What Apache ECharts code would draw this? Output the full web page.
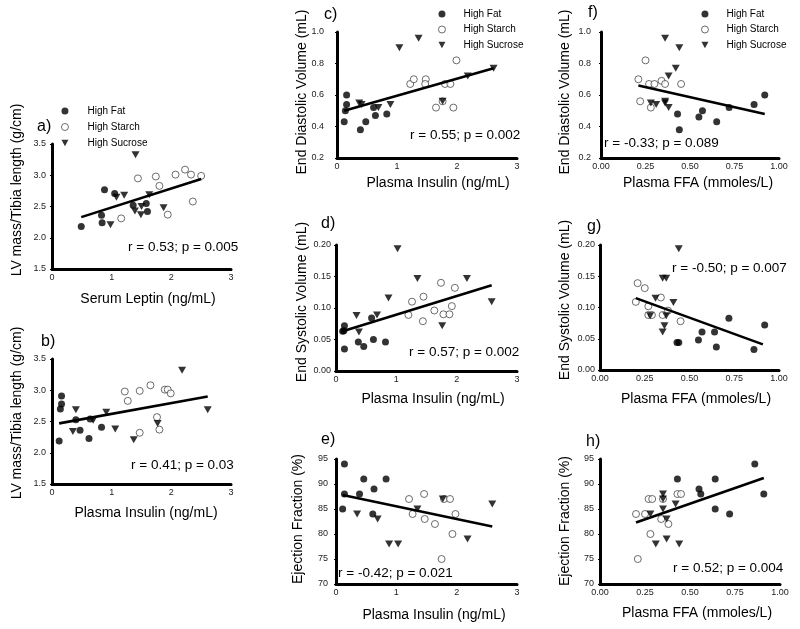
<!DOCTYPE html>
<html>
<head>
<meta charset="utf-8">
<script src="https://cdn.jsdelivr.net/npm/echarts@6/dist/echarts.min.js"></script>
<style>
html,body{margin:0;padding:0;background:#fff;}
#chart{width:800px;height:629px;}
</style>
</head>
<body>
<div id="chart"></div>
<script>
// ---- tick labels ----
const insulinTicks = [0, 1, 2, 3];
const ffaTicks = [0, 0.25, 0.5, 0.75, 1];
const lvTicks = [1.5, 2, 2.5, 3, 3.5];
const edvTicks = [0.2, 0.4, 0.6, 0.8, 1.0];
const esvTicks = [0, 0.05, 0.1, 0.15, 0.2];
const efTicks = [70, 75, 80, 85, 90, 95];

const groupNames = ['High Fat', 'High Starch', 'High Sucrose'];

// ---- a) LV mass vs serum leptin ----
const aFat = [[0.49,2.18],[0.83,2.36],[0.84,2.24],[0.88,2.77],[1.05,2.71],[1.36,2.52],[1.58,2.55],[1.60,2.42]];
const aStarch = [[1.44,2.95],[1.74,2.98],[1.80,2.83],[2.07,3.01],[2.23,3.09],[2.33,3.01],[2.50,2.99],[2.36,2.58],[1.94,2.37],[1.16,2.31]];
const aSucrose = [[1.40,3.33],[1.08,2.65],[1.21,2.68],[0.98,2.21],[1.39,2.43],[1.49,2.37],[1.50,2.50],[1.63,2.69],[1.87,2.48]];
const aFit = [[0.49,2.33],[2.50,2.94]];

// ---- b) LV mass vs plasma insulin ----
const bFat = [[0.12,2.19],[0.16,2.91],[0.16,2.78],[0.14,2.70],[0.40,2.53],[0.47,2.36],[0.62,2.23],[0.83,2.41],[0.64,2.54]];
const bStarch = [[1.22,2.98],[1.27,2.83],[1.47,2.99],[1.47,2.32],[1.65,3.08],[1.76,2.57],[1.80,2.37],[1.89,3.01],[1.94,3.01],[1.99,2.95]];
const bSucrose = [[0.40,2.69],[0.35,2.34],[0.69,2.52],[0.91,2.65],[1.06,2.38],[1.37,2.21],[1.77,2.47],[2.18,3.32],[2.61,2.69]];
const bFit = [[0.12,2.47],[2.61,2.90]];

// ---- c) EDV vs plasma insulin ----
const cFat = [[0.12,0.43],[0.16,0.60],[0.16,0.54],[0.14,0.50],[0.39,0.38],[0.48,0.43],[0.61,0.52],[0.64,0.47],[0.83,0.48]];
const cStarch = [[1.22,0.67],[1.28,0.70],[1.48,0.70],[1.47,0.67],[1.65,0.52],[1.80,0.67],[1.89,0.67],[1.94,0.52],[1.99,0.82],[1.76,0.56]];
const cSucrose = [[0.37,0.55],[0.41,0.54],[0.69,0.52],[0.89,0.54],[1.04,0.90],[1.36,0.96],[1.76,0.56],[2.18,0.72],[2.61,0.77]];
const cFit = [[0.12,0.50],[2.61,0.77]];

// ---- d) ESV vs plasma insulin ----
const dFat = [[0.11,0.063],[0.13,0.064],[0.14,0.072],[0.14,0.035],[0.37,0.046],[0.46,0.039],[0.59,0.084],[0.62,0.050],[0.82,0.046]];
const dStarch = [[1.20,0.089],[1.26,0.110],[1.45,0.118],[1.44,0.079],[1.63,0.096],[1.74,0.140],[1.78,0.090],[1.88,0.090],[1.92,0.103],[1.97,0.132]];
const dSucrose = [[0.34,0.088],[0.38,0.062],[0.68,0.089],[0.87,0.116],[1.02,0.194],[1.35,0.147],[1.76,0.072],[2.17,0.147],[2.58,0.110]];
const dFit = [[0.11,0.063],[2.58,0.136]];

// ---- e) EF vs plasma insulin ----
const eFat = [[0.14,94],[0.14,88],[0.11,85],[0.39,88],[0.46,91],[0.63,89],[0.61,84],[0.83,91]];
const eStarch = [[1.21,87],[1.27,84],[1.46,88],[1.47,83],[1.64,82],[1.79,87],[1.89,87],[1.98,84],[1.93,80],[1.75,75]];
const eSucrose = [[0.35,84],[0.69,83],[0.88,78],[1.03,78],[1.35,85],[1.77,87],[2.18,79],[2.59,86]];
const eFit = [[0.11,87.8],[2.59,81.5]];

// ---- f) EDV vs plasma FFA ----
const fFat = [[0.43,0.48],[0.44,0.38],[0.55,0.46],[0.57,0.50],[0.65,0.43],[0.72,0.52],[0.86,0.54],[0.92,0.60]];
const fStarch = [[0.21,0.70],[0.22,0.56],[0.25,0.82],[0.27,0.67],[0.30,0.67],[0.28,0.52],[0.34,0.69],[0.36,0.67],[0.45,0.67]];
const fSucrose = [[0.28,0.55],[0.31,0.54],[0.36,0.55],[0.36,0.56],[0.38,0.52],[0.36,0.96],[0.44,0.90],[0.42,0.77],[0.38,0.72]];
const fFit = [[0.21,0.66],[0.92,0.48]];

// ---- g) ESV vs plasma FFA ----
const gFat = [[0.43,0.044],[0.44,0.044],[0.55,0.048],[0.57,0.061],[0.64,0.061],[0.65,0.037],[0.72,0.083],[0.86,0.033],[0.92,0.072]];
const gStarch = [[0.20,0.109],[0.21,0.139],[0.25,0.131],[0.27,0.102],[0.27,0.088],[0.29,0.088],[0.34,0.116],[0.35,0.088],[0.38,0.095],[0.45,0.078]];
const gSucrose = [[0.28,0.087],[0.31,0.115],[0.35,0.147],[0.37,0.147],[0.36,0.071],[0.35,0.061],[0.37,0.087],[0.41,0.108],[0.44,0.194]];
const gFit = [[0.20,0.115],[0.91,0.041]];

// ---- h) EF vs plasma FFA ----
const hFat = [[0.43,91],[0.55,89],[0.56,88],[0.64,91],[0.64,85],[0.72,84],[0.86,94],[0.91,88]];
const hStarch = [[0.20,84],[0.25,84],[0.27,87],[0.29,87],[0.21,75],[0.28,80],[0.34,83],[0.35,87],[0.38,82],[0.43,88],[0.45,88]];
const hSucrose = [[0.28,84],[0.31,78],[0.35,88],[0.35,87],[0.35,85],[0.37,83],[0.37,79],[0.42,86],[0.44,78]];
const hFit = [[0.20,82.3],[0.91,91.2]];

// ---- panel layout ----
const FONT = '"Liberation Sans", Arial, Helvetica, sans-serif';
const panels = [
  {lab:'a)', fat:aFat, starch:aStarch, sucrose:aSucrose, fit:aFit, xt:insulinTicks, yt:lvTicks, xd:0, yd:1,
   grid:{left:52, top:144, width:179, height:125}, ym:6,
   xTitle:'Serum Leptin (ng/mL)', xTitlePos:[148,299], yTitle:'LV mass/Tibia length (g/cm)', yTitlePos:[17,190],
   labPos:[37,127], stat:'r = 0.53; p = 0.005', statPos:[128,247]},
  {lab:'b)', fat:bFat, starch:bStarch, sucrose:bSucrose, fit:bFit, xt:insulinTicks, yt:lvTicks, xd:0, yd:1,
   grid:{left:52, top:359, width:179, height:125}, ym:6,
   xTitle:'Plasma Insulin (ng/mL)', xTitlePos:[146,513], yTitle:'LV mass/Tibia length (g/cm)', yTitlePos:[17,413],
   labPos:[41,342], stat:'r = 0.41; p = 0.03', statPos:[131,465]},
  {lab:'c)', fat:cFat, starch:cStarch, sucrose:cSucrose, fit:cFit, xt:insulinTicks, yt:edvTicks, xd:0, yd:1,
   grid:{left:337, top:32, width:180, height:126}, ym:13,
   xTitle:'Plasma Insulin (ng/mL)', xTitlePos:[438,183], yTitle:'End Diastolic Volume (mL)', yTitlePos:[302,92],
   labPos:[324,15], stat:'r = 0.55; p = 0.002', statPos:[410,135]},
  {lab:'d)', fat:dFat, starch:dStarch, sucrose:dSucrose, fit:dFit, xt:insulinTicks, yt:esvTicks, xd:0, yd:2,
   grid:{left:336, top:245, width:181, height:126}, ym:5,
   xTitle:'Plasma Insulin (ng/mL)', xTitlePos:[433,399], yTitle:'End Systolic Volume (mL)', yTitlePos:[302,302],
   labPos:[321,224], stat:'r = 0.57; p = 0.002', statPos:[409,352]},
  {lab:'e)', fat:eFat, starch:eStarch, sucrose:eSucrose, fit:eFit, xt:insulinTicks, yt:efTicks, xd:0, yd:0,
   grid:{left:336, top:459, width:181, height:125}, ym:8,
   xTitle:'Plasma Insulin (ng/mL)', xTitlePos:[434,615], yTitle:'Ejection Fraction (%)', yTitlePos:[298,519],
   labPos:[321,440], stat:'r = -0.42; p = 0.021', statPos:[338,573]},
  {lab:'f)', fat:fFat, starch:fStarch, sucrose:fSucrose, fit:fFit, xt:ffaTicks, yt:edvTicks, xd:2, yd:1,
   grid:{left:601, top:32, width:178, height:126}, ym:10,
   xTitle:'Plasma FFA (mmoles/L)', xTitlePos:[698,183], yTitle:'End Diastolic Volume (mL)', yTitlePos:[565,92],
   labPos:[588,13], stat:'r = -0.33; p = 0.089', statPos:[604,143]},
  {lab:'g)', fat:gFat, starch:gStarch, sucrose:gSucrose, fit:gFit, xt:ffaTicks, yt:esvTicks, xd:2, yd:2,
   grid:{left:600, top:245, width:179, height:125}, ym:5,
   xTitle:'Plasma FFA (mmoles/L)', xTitlePos:[696,399], yTitle:'End Systolic Volume (mL)', yTitlePos:[565,300],
   labPos:[587,227], stat:'r = -0.50; p = 0.007', statPos:[672,268]},
  {lab:'h)', fat:hFat, starch:hStarch, sucrose:hSucrose, fit:hFit, xt:ffaTicks, yt:efTicks, xd:2, yd:0,
   grid:{left:600, top:459, width:180, height:125}, ym:6,
   xTitle:'Plasma FFA (mmoles/L)', xTitlePos:[697,613], yTitle:'Ejection Fraction (%)', yTitlePos:[565,521],
   labPos:[586,442], stat:'r = 0.52; p = 0.004', statPos:[673,568]}
];

const TRI = 'path://M0,0L10,0L5,9Z';
const starchStyle = {color: '#fff', borderColor: '#333', borderWidth: 0.9};

function axisFrom(ticks, dec, gridIndex, margin) {
  return {
    type: 'value', gridIndex: gridIndex,
    min: ticks[0], max: ticks[ticks.length - 1],
    interval: +(ticks[1] - ticks[0]).toFixed(6),
    splitLine: {show: false},
    axisLine: {show: true, onZero: false, lineStyle: {color: '#000', width: 3}},
    axisTick: {show: true, length: 2, lineStyle: {color: '#000', width: 1}},
    axisLabel: {show: true, color: '#222', fontSize: 9, fontFamily: FONT, margin: margin,
      formatter: v => Number(v).toFixed(dec)}
  };
}

const grids = [], xAxes = [], yAxes = [], series = [], graphics = [];
panels.forEach((p, i) => {
  grids.push(Object.assign({containLabel: false}, p.grid));
  xAxes.push(axisFrom(p.xt, p.xd, i, 4));
  yAxes.push(axisFrom(p.yt, p.yd, i, p.ym));
  series.push({
    name: groupNames[0], type: 'scatter', xAxisIndex: i, yAxisIndex: i, data: p.fat,
    symbol: 'circle', symbolSize: 7, itemStyle: {color: '#000'}, silent: true, z: 3
  });
  series.push({
    name: groupNames[1], type: 'scatter', xAxisIndex: i, yAxisIndex: i, data: p.starch,
    symbol: 'circle', symbolSize: 7, itemStyle: starchStyle, silent: true, z: 3
  });
  series.push({
    name: groupNames[2], type: 'scatter', xAxisIndex: i, yAxisIndex: i, data: p.sucrose,
    symbol: TRI, symbolSize: [8, 7], itemStyle: {color: '#000'}, silent: true, z: 3
  });
  series.push({
    name: 'fit', type: 'line', xAxisIndex: i, yAxisIndex: i, data: p.fit,
    symbol: 'none', lineStyle: {color: '#000', width: 2.6}, silent: true, z: 4, animation: false
  });
  graphics.push({type: 'text', x: p.labPos[0], y: p.labPos[1],
    style: {text: p.lab, fontSize: 16, fontFamily: FONT, fill: '#000', textAlign: 'left', textVerticalAlign: 'middle'}});
  graphics.push({type: 'text', x: p.statPos[0], y: p.statPos[1],
    style: {text: p.stat, fontSize: 13.5, fontFamily: FONT, fill: '#000', textAlign: 'left', textVerticalAlign: 'middle'}});
  graphics.push({type: 'text', x: p.xTitlePos[0], y: p.xTitlePos[1],
    style: {text: p.xTitle, fontSize: 14, fontFamily: FONT, fill: '#000', textAlign: 'center', textVerticalAlign: 'middle'}});
  graphics.push({type: 'text', x: p.yTitlePos[0], y: p.yTitlePos[1], rotation: Math.PI / 2,
    style: {text: p.yTitle, x: 0, y: 0, fontSize: 14, fontFamily: FONT, fill: '#000', textAlign: 'center', textVerticalAlign: 'middle'}});
});

function legendAt(left, top, gap, pad) {
  return {
    data: [
      {name: groupNames[0], itemStyle: {color: '#000', borderWidth: 0}},
      {name: groupNames[1], itemStyle: starchStyle},
      {name: groupNames[2], itemStyle: {color: '#000', borderWidth: 0}}
    ],
    orient: 'vertical', left: left, top: top, itemWidth: 7, itemHeight: 7,
    itemGap: gap, selectedMode: false, padding: 0,
    formatter: '{t|{name}}',
    textStyle: {fontSize: 10, fontFamily: FONT, color: '#000', lineHeight: 12,
      rich: {t: {fontSize: 10, fontFamily: FONT, color: '#000', padding: [0, 0, 0, pad], lineHeight: 12}}}
  };
}

const chart = echarts.init(document.getElementById('chart'), null, {renderer: 'canvas'});
chart.setOption({
  animation: false,
  backgroundColor: '#fff',
  grid: grids,
  xAxis: xAxes,
  yAxis: yAxes,
  legend: [legendAt(61, 105, 4, 14), legendAt(438, 8, 3.5, 13), legendAt(701, 8, 3.5, 13)],
  series: series,
  graphic: graphics
});
</script>
</body>
</html>
